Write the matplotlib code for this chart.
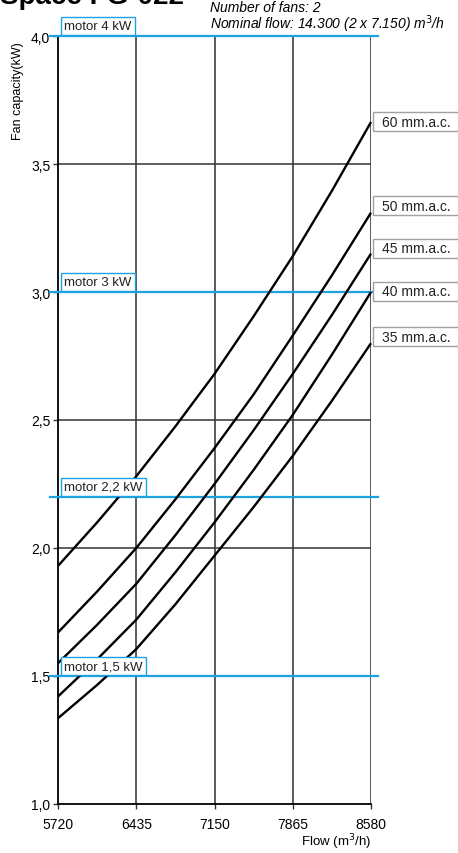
import matplotlib
matplotlib.use("Agg")
import matplotlib.pyplot as plt
from matplotlib.patches import Rectangle

plt.rcParams['font.family'] = ['Liberation Sans', 'DejaVu Sans']

# data (grid flows plus the half-way flows)
flow = [5720, 6077.5, 6435, 6792.5, 7150, 7507.5, 7865, 8222.5, 8580]
tick_flow = [5720, 6435, 7150, 7865, 8580]
curves = {
    "60 mm.a.c.": [1.93, 2.10, 2.28, 2.475, 2.68, 2.905, 3.14, 3.395, 3.664],
    "50 mm.a.c.": [1.67, 1.83, 2.00, 2.19, 2.39, 2.60, 2.83, 3.065, 3.31],
    "45 mm.a.c.": [1.55, 1.70, 1.86, 2.05, 2.25, 2.46, 2.68, 2.91, 3.15],
    "40 mm.a.c.": [1.42, 1.565, 1.72, 1.905, 2.10, 2.305, 2.52, 2.755, 3.00],
    "35 mm.a.c.": [1.335, 1.465, 1.605, 1.78, 1.97, 2.16, 2.36, 2.575, 2.80],
}
label_y = [3.666, 3.336, 3.17, 3.002, 2.826]   # where the labels sit
motors = [4.0, 3.0, 2.2, 1.5]
motor_names = ["motor 4 kW", "motor 3 kW", "motor 2,2 kW", "motor 1,5 kW"]
y_ticks = [1.0, 1.5, 2.0, 2.5, 3.0, 3.5, 4.0]

W, H = 458, 854
fig = plt.figure(figsize=(W / 100, H / 100), dpi=100)
ax = fig.add_axes([58 / W, 1 - 805 / H, (371 - 58) / W, (805 - 37) / H])

ax.set_xlim(5720, 8580)
ax.set_ylim(1.0, 4.0)
ax.set_xticks(tick_flow)
ax.set_xticklabels([str(f) for f in tick_flow], fontsize=10)
ax.set_yticks(y_ticks)
ax.set_yticklabels([("%.1f" % v).replace(".", ",") for v in y_ticks], fontsize=10)
ax.tick_params(axis='both', direction='out', length=3.5, width=1, color='#333333', pad=2)
ax.tick_params(axis='x', pad=6)

for s in ['top', 'right']:
    ax.spines[s].set_visible(False)
for s in ['left', 'bottom']:
    ax.spines[s].set_color('black')
    ax.spines[s].set_linewidth(1.3)

# grid
for f in tick_flow[1:]:
    ax.axvline(f, color='#2e2e2e', lw=1.1, zorder=1)
for v in y_ticks[1:]:
    ax.axhline(v, color='#333333', lw=1.1, zorder=1)

# motor lines
for m, name in zip(motors, motor_names):
    ax.axhline(m, xmin=-8 / 313, xmax=1 + 7 / 313, color='#1aa3e0', lw=1.6,
               clip_on=False, zorder=3)
    ax.annotate(name, xy=(5720, m), xycoords='data', xytext=(4.5, 2.8),
                textcoords='offset points', fontsize=9.5, color='#222222',
                va='bottom', ha='left', zorder=5,
                bbox=dict(boxstyle='square,pad=0.22', fc='white', ec='#1aa3e0', lw=1))

# fan curves
for name, vals in curves.items():
    ax.plot(flow, vals, color='black', lw=1.7, zorder=4, clip_on=False,
            solid_capstyle='butt')

# curve labels in boxes on the right
for name, ly in zip(curves.keys(), label_y):
    yp = ax.transData.transform((8580, ly))[1] / H
    fig.patches.append(Rectangle((373 / W, yp - 9.5 / H), 90 / W, 19 / H,
                                 transform=fig.transFigure, fc='white',
                                 ec='#a0a0a0', lw=1, zorder=5))
    fig.text(382 / W, yp, name, fontsize=10, va='center', ha='left',
             color='#222222', zorder=6)

ax.set_ylabel("Fan capacity(kW)", fontsize=9)
ax.yaxis.set_label_coords(-46 / 313, 1 - 5 / 768)
ax.yaxis.label.set_va('top')
ax.yaxis.label.set_ha('right')
ax.set_xlabel(r"Flow (m$^3$/h)", fontsize=9.5)
ax.xaxis.set_label_coords(1.0, -37 / 768)
ax.xaxis.label.set_ha('right')
ax.xaxis.label.set_va('center')

fig.text(0.0, 1 - 4 / H, "Space I-G-022", fontsize=20, fontweight='bold',
         va='baseline', ha='left')
fig.text(210 / W, 1 - 12 / H, "Number of fans: 2", fontsize=10,
         style='italic', va='baseline')
fig.text(210 / W, 1 - 29 / H, r"Nominal flow: 14.300 (2 x 7.150) m$^3$/h",
         fontsize=10, style='italic', va='baseline')

fig.savefig("out.png", dpi=100)
